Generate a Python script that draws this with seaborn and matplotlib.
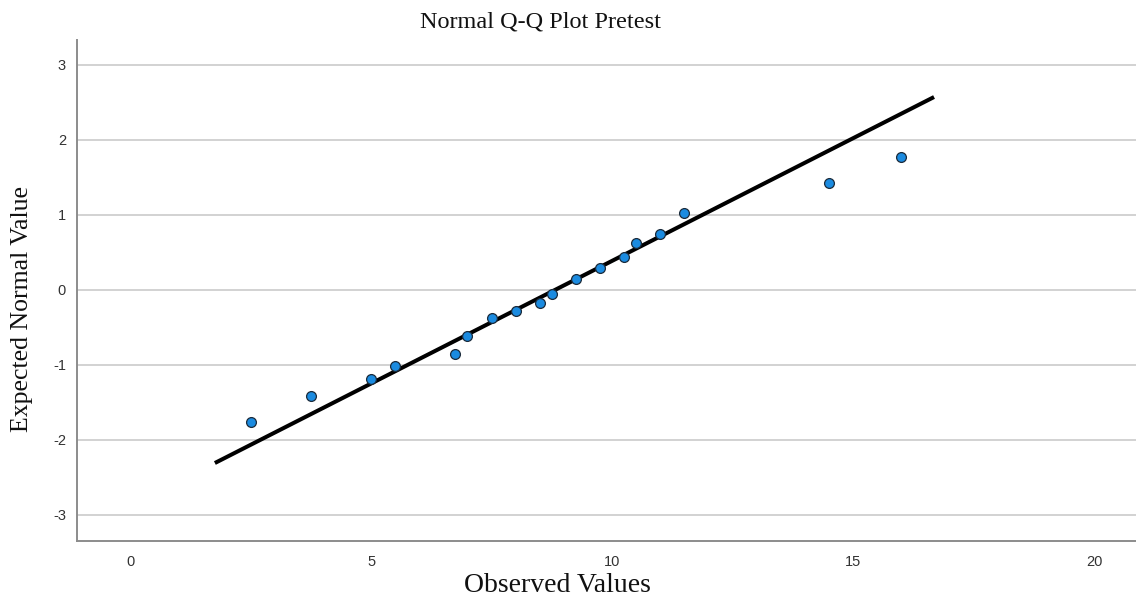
import matplotlib
matplotlib.use("Agg")
import matplotlib.pyplot as plt
import seaborn as sns
import pandas as pd

# Observed scores and their expected normal quantiles
observed = [2.5, 3.75, 5.0, 5.5, 6.75, 7.0, 7.5, 8.0, 8.5, 8.75,
            9.25, 9.75, 10.25, 10.5, 11.0, 11.5, 14.5, 16.0]
expected = [-1.76, -1.42, -1.19, -1.01, -0.86, -0.61, -0.38, -0.28, -0.18, -0.05,
            0.14, 0.29, 0.44, 0.62, 0.74, 1.02, 1.43, 1.77]

# Reference line of the fitted normal distribution
line_x = [1.76, 16.68]
line_y = [-2.31, 2.57]

x_ticks = [0, 5, 10, 15, 20]
y_ticks = [-3, -2, -1, 0, 1, 2, 3]

sns.set_theme(style="white")
plt.rcParams["font.family"] = ["Liberation Sans", "DejaVu Sans"]
plt.rcParams["axes.unicode_minus"] = False

fig = plt.figure(figsize=(11.36, 6.01), dpi=100)
ax = fig.add_axes([0.0678, 0.0998, 0.9322, 0.8336])

pts = pd.DataFrame({"observed": observed, "expected": expected})
ref = pd.DataFrame({"x": line_x, "y": line_y})

ax.set_xlim(-1.1, 20.87)
ax.set_ylim(-3.35, 3.33)
ax.set_yticks(y_ticks)
ax.set_xticks(x_ticks)
ax.yaxis.grid(True, color="#cfcfcf", linewidth=1.3)
ax.xaxis.grid(False)
ax.set_axisbelow(True)

sns.lineplot(data=ref, x="x", y="y", ax=ax, color="black", linewidth=2.9,
             solid_capstyle="butt", zorder=2)
sns.scatterplot(data=pts, x="observed", y="expected", ax=ax, s=50,
                color="#1b8be0", edgecolor="#1a2a3a", linewidth=0.9, zorder=3)

for side in ("top", "right"):
    ax.spines[side].set_visible(False)
for side in ("left", "bottom"):
    ax.spines[side].set_color("#8c8c8c")
    ax.spines[side].set_linewidth(1.4)

ax.tick_params(axis="both", length=0, labelsize=10.5, labelcolor="#333333")
ax.tick_params(axis="x", pad=10)
ax.tick_params(axis="y", pad=8)
ax.set_xlabel("")
ax.set_ylabel("")

serif = ["Liberation Serif", "DejaVu Serif"]
fig.text(540 / 1136, 1 - 22 / 601, "Normal Q-Q Plot Pretest", ha="center", va="center",
         fontsize=17.5, family=serif, color="#111111")
fig.text(557 / 1136, 1 - 585 / 601, "Observed Values", ha="center", va="center",
         fontsize=20, family=serif, color="#111111")
fig.text(22 / 1136, 1 - 309 / 601, "Expected Normal Value", ha="center", va="center",
         rotation=90, fontsize=18.5, family=serif, color="#111111")

fig.savefig("out.png", dpi=100)
